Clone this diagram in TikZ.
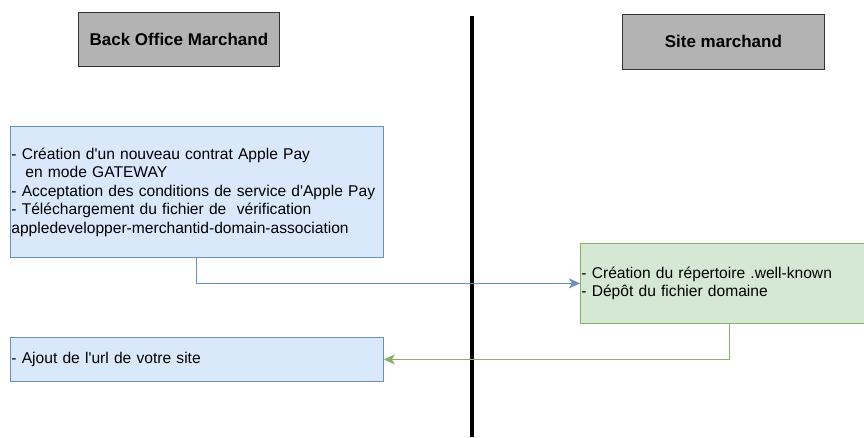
\documentclass[tikz,border=0pt]{standalone}
\usepackage{fontspec}
\setmainfont{Liberation Sans}
\usetikzlibrary{arrows.meta}
\definecolor{headfill}{HTML}{B3B3B3}
\definecolor{bluefill}{HTML}{DAE8FC}
\definecolor{bluedraw}{HTML}{6C8EBF}
\definecolor{greenfill}{HTML}{D5E8D4}
\definecolor{greendraw}{HTML}{82B366}
\newcommand{\q}{\textquotesingle}
\tikzset{
  header/.style={draw=black!80, fill=headfill, line width=0.8pt, anchor=north west,
    inner sep=0pt, font=\fontsize{17}{20}\selectfont\bfseries},
  bluebox/.style={draw=bluedraw, fill=bluefill, line width=0.8pt, anchor=north west,
    inner xsep=1pt, inner ysep=0pt, align=left, font=\fontsize{15.6}{18.5}\selectfont},
  greenbox/.style={bluebox, draw=greendraw, fill=greenfill},
  tip/.style={-{Stealth[length=11pt,width=10pt,inset=3pt]}, line width=0.9pt}
}
\begin{document}
\begin{tikzpicture}[x=1pt,y=-1pt]
\useasboundingbox (0,0) rectangle (864,437);
% en-tetes
\node[header, minimum width=201pt, minimum height=54pt] (bom) at (78,12) {Back Office Marchand};
\node[header, minimum width=202pt, minimum height=55pt] (site) at (622,14) {Site marchand};
% separation
\draw[line width=4pt] (472,16)--(472,437);
% etapes
\node[bluebox, minimum height=131pt, text width=371pt] (contrat) at (10,126)
  {- Création d\q un nouveau contrat Apple Pay\\
   \hspace*{14pt}en mode GATEWAY\\
   - Acceptation des conditions de service d\q Apple Pay\\
   - Téléchargement du fichier de\ \ vérification\\
   appledevelopper-merchantid-domain-association};
\node[greenbox, minimum height=80pt, text width=296pt] (depot) at (580,243)
  {- Création du répertoire .well-known\\
   - Dépôt du fichier domaine};
\node[bluebox, minimum height=44pt, text width=371pt] (ajout) at (10,337)
  {- Ajout de l\q url de votre site};
% fleches
\draw[tip, bluedraw] (contrat.south) |- (depot.west);
\draw[tip, greendraw] (depot.south) |- (ajout.east);
\end{tikzpicture}
\end{document}
